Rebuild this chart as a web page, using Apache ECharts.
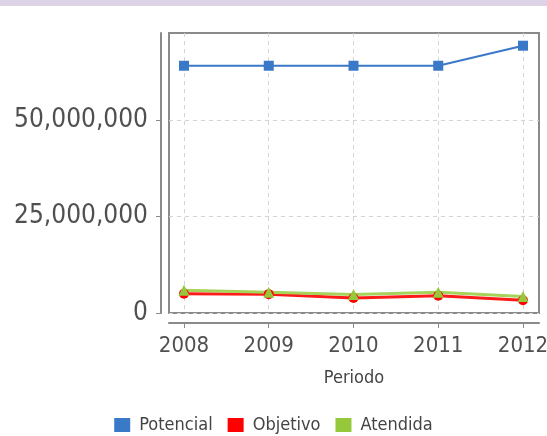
<!DOCTYPE html>
<html>
<head>
<meta charset="utf-8">
<script src="https://cdn.jsdelivr.net/npm/echarts@6/dist/echarts.min.js"></script>
<style>
html,body{margin:0;padding:0;background:#fff;}
#band{position:absolute;left:0;top:0;width:547px;height:6px;background:#dcd3e6;z-index:2;}
#chart{position:absolute;left:0;top:0;width:547px;height:436px;}
</style>
</head>
<body>
<div id="chart"></div>
<div id="band"></div>
<script>
const years = [2008, 2009, 2010, 2011, 2012];
const potencial = [64200000, 64200000, 64200000, 64200000, 69400000];
const objetivo = [5000000, 4900000, 3900000, 4500000, 3300000];
const atendida = [5900000, 5400000, 4800000, 5400000, 4300000];
const yTicks = [0, 25000000, 50000000];
const seriesNames = ['Potencial', 'Objetivo', 'Atendida'];

const FONT = '"DejaVu Sans Condensed", "DejaVu Sans", sans-serif';
const pair = arr => years.map((y, i) => [y, arr[i]]);

const chart = echarts.init(document.getElementById('chart'), null, {renderer: 'canvas'});
chart.setOption({
  animation: false,
  backgroundColor: '#ffffff',
  grid: {
    left: 169, top: 33, width: 370, height: 280,
    outerBoundsMode: 'none', containLabel: false,
    show: true, borderColor: '#8a8a8a', borderWidth: 2, backgroundColor: '#ffffff'
  },
  xAxis: {
    type: 'value',
    min: 2007.823, max: 2012.189,
    offset: 10,
    name: 'Periodo',
    nameLocation: 'middle',
    nameGap: 46,
    nameTextStyle: {fontFamily: FONT, fontSize: 18, color: '#444'},
    axisLine: {show: true, onZero: false, lineStyle: {color: '#8a8a8a', width: 2}},
    axisTick: {show: true, length: 5, customValues: years, lineStyle: {color: '#8a8a8a', width: 1}},
    axisLabel: {customValues: years, formatter: v => String(v), fontFamily: FONT, fontSize: 22, color: '#505050', margin: 12, hideOverlap: false},
    splitLine: {show: true, lineStyle: {color: '#d4d4d4', type: [4, 4], width: 1}}
  },
  yAxis: {
    type: 'value',
    min: 0, max: 72700000,
    offset: 8,
    axisLine: {show: true, lineStyle: {color: '#8a8a8a', width: 2}},
    axisTick: {show: true, length: 5, customValues: yTicks, lineStyle: {color: '#8a8a8a', width: 1}},
    axisLabel: {customValues: yTicks, formatter: v => v.toLocaleString('en-US'), fontFamily: FONT, fontSize: 26, color: '#505050', margin: 13, padding: [4, 0, 0, 0]},
    splitLine: {show: true, lineStyle: {color: '#d4d4d4', type: [4, 4], width: 1}}
  },
  legend: {
    data: seriesNames,
    top: 411,
    left: 'center',
    icon: 'rect',
    itemWidth: 16,
    itemHeight: 14,
    itemGap: 15,
    textStyle: {fontFamily: FONT, fontSize: 18, color: '#444', padding: [0, 0, 0, 4]}
  },
  series: [
    {
      name: seriesNames[0], type: 'line', data: pair(potencial),
      symbol: 'rect', symbolSize: 10,
      itemStyle: {color: '#3a78c8'}, lineStyle: {color: '#3a78c8', width: 2}
    },
    {
      name: seriesNames[1], type: 'line', data: pair(objetivo),
      symbol: 'circle', symbolSize: 10,
      itemStyle: {color: '#ff0000'}, lineStyle: {color: '#ff1a1a', width: 3}
    },
    {
      name: seriesNames[2], type: 'line', data: pair(atendida),
      symbol: 'triangle', symbolSize: 11,
      itemStyle: {color: '#95c83a'}, lineStyle: {color: '#a6d45a', width: 3}
    }
  ]
});
</script>
</body>
</html>
